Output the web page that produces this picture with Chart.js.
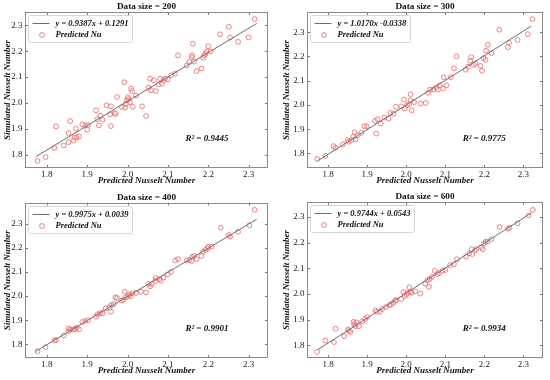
<!DOCTYPE html>
<html>
<head>
<meta charset="utf-8">
<script src="https://cdn.jsdelivr.net/npm/chart.js@4.4.1/dist/chart.umd.min.js"></script>
<style>
  html, body { margin: 0; padding: 0; background: #fff; }
  #wrap { position: relative; width: 550px; height: 380px; }
  #wrap canvas { position: absolute; }
</style>
</head>
<body>
<div id="wrap">
  <canvas id="c200" width="275" height="190" style="left:0;top:0"></canvas>
  <canvas id="c300" width="275" height="190" style="left:275px;top:0"></canvas>
  <canvas id="c400" width="275" height="190" style="left:0;top:190px"></canvas>
  <canvas id="c600" width="275" height="190" style="left:275px;top:190px"></canvas>
</div>
<script>
// panel labels
const sizes = [200, 300, 400, 600];
const eqLabels = ['y = 0.9387x + 0.1291', 'y = 1.0170x -0.0338', 'y = 0.9975x + 0.0039', 'y = 0.9744x + 0.0543'];
const r2Values = ['0.9445', '0.9775', '0.9901', '0.9934'];
const pointLabel = 'Predicted Nu';

// fitted line end points
const fitX = [1.773, 2.32];
const fitY200 = [1.793, 2.307];
const fitY300 = [1.769, 2.325];
const fitY400 = [1.772, 2.318];
const fitY600 = [1.782, 2.315];

// axis bounds
const xMin = [1.746, 1.746, 1.746, 1.746];
const xMax = [2.348, 2.350, 2.348, 2.350];
const yMin = [1.749, 1.740, 1.744, 1.750];
const yMax = [2.351, 2.383, 2.387, 2.358];

// scatter points
const x200 = [1.777,1.797,1.819,1.823,1.842,1.854,1.854,1.858,1.866,1.869,1.872,1.874,1.880,1.888,1.895,1.900,1.902,1.922,1.925,1.929,1.933,1.938,1.948,1.957,1.959,1.959,1.968,1.974,1.971,1.986,1.992,1.994,1.996,1.998,2.001,2.002,2.006,2.009,2.011,2.013,2.021,2.036,2.046,2.052,2.056,2.058,2.065,2.070,2.077,2.081,2.085,2.089,2.093,2.100,2.108,2.118,2.125,2.147,2.153,2.159,2.160,2.162,2.165,2.171,2.183,2.187,2.190,2.193,2.196,2.200,2.206,2.229,2.251,2.254,2.274,2.300,2.315];
const y200 = [1.776,1.791,1.826,1.910,1.836,1.849,1.884,1.930,1.855,1.868,1.900,1.866,1.871,1.917,1.913,1.897,1.915,1.971,1.937,1.913,1.951,1.935,1.991,1.956,1.987,1.911,1.961,2.023,1.958,1.985,2.080,1.982,1.997,2.010,2.023,2.015,2.003,2.055,2.046,1.985,2.029,1.987,1.950,2.059,2.094,2.049,2.088,2.046,2.072,2.094,2.074,2.088,2.094,2.091,2.107,2.113,2.184,2.145,2.158,2.177,2.184,2.229,2.160,2.123,2.133,2.175,2.184,2.190,2.199,2.219,2.199,2.265,2.294,2.253,2.236,2.253,2.324];

const x300 = [1.772,1.793,1.814,1.819,1.838,1.850,1.853,1.859,1.865,1.868,1.870,1.876,1.885,1.893,1.899,1.920,1.923,1.927,1.935,1.944,1.955,1.959,1.967,1.974,1.987,1.994,1.996,2.002,2.007,2.011,2.011,2.014,2.020,2.037,2.050,2.056,2.061,2.069,2.077,2.081,2.086,2.094,2.096,2.103,2.114,2.122,2.129,2.152,2.158,2.164,2.166,2.173,2.177,2.190,2.194,2.198,2.203,2.204,2.209,2.218,2.238,2.260,2.263,2.285,2.311,2.323];
const y300 = [1.777,1.790,1.830,1.823,1.837,1.855,1.848,1.855,1.869,1.887,1.858,1.875,1.885,1.912,1.912,1.934,1.882,1.941,1.923,1.948,1.944,1.967,1.964,1.992,1.994,2.022,1.985,1.999,2.003,2.019,2.044,1.978,2.012,2.006,2.008,2.050,2.063,2.063,2.072,2.063,2.081,2.068,2.114,2.081,2.114,2.151,2.201,2.145,2.158,2.182,2.197,2.165,2.172,2.161,2.141,2.193,2.186,2.224,2.248,2.214,2.310,2.238,2.257,2.268,2.292,2.354];

const x400 = [1.777,1.797,1.819,1.823,1.842,1.854,1.855,1.858,1.866,1.870,1.874,1.880,1.888,1.895,1.902,1.922,1.926,1.932,1.938,1.946,1.955,1.959,1.960,1.966,1.970,1.974,1.986,1.990,1.993,1.996,2.001,2.005,2.008,2.012,2.021,2.033,2.046,2.052,2.056,2.060,2.069,2.070,2.079,2.083,2.089,2.099,2.108,2.118,2.125,2.147,2.153,2.159,2.160,2.165,2.171,2.183,2.187,2.193,2.198,2.200,2.208,2.231,2.251,2.254,2.274,2.302,2.315];
const y400 = [1.772,1.789,1.817,1.818,1.837,1.866,1.855,1.862,1.862,1.865,1.869,1.862,1.893,1.897,1.900,1.915,1.925,1.930,1.930,1.949,1.953,1.936,1.963,1.967,1.995,1.992,1.981,1.985,2.018,1.995,2.001,2.007,1.999,2.011,2.013,2.018,2.015,2.050,2.040,2.050,2.063,2.075,2.070,2.063,2.077,2.090,2.100,2.148,2.153,2.148,2.150,2.145,2.162,2.166,2.153,2.166,2.183,2.191,2.197,2.205,2.205,2.283,2.253,2.246,2.266,2.293,2.357];

const x600 = [1.772,1.793,1.815,1.819,1.841,1.851,1.853,1.857,1.865,1.867,1.870,1.872,1.879,1.887,1.895,1.900,1.921,1.925,1.933,1.938,1.948,1.957,1.961,1.967,1.972,1.974,1.987,1.993,1.996,2.000,2.004,2.008,2.010,2.014,2.023,2.036,2.049,2.054,2.058,2.060,2.066,2.073,2.080,2.084,2.093,2.100,2.112,2.122,2.130,2.153,2.161,2.167,2.169,2.176,2.179,2.192,2.196,2.199,2.203,2.208,2.218,2.239,2.260,2.264,2.285,2.313,2.324];
const y600 = [1.774,1.818,1.812,1.864,1.835,1.861,1.855,1.852,1.891,1.881,1.874,1.889,1.874,1.893,1.903,1.910,1.935,1.930,1.931,1.941,1.949,1.956,1.959,1.965,1.974,1.975,1.980,2.007,1.991,1.997,2.004,2.026,2.007,2.004,2.010,2.001,2.040,2.053,2.027,2.058,2.066,2.090,2.077,2.081,2.090,2.093,2.112,2.116,2.135,2.145,2.158,2.174,2.155,2.168,2.174,2.181,2.174,2.197,2.203,2.204,2.213,2.261,2.254,2.258,2.275,2.306,2.327];

const serif = "'Liberation Serif', 'Times New Roman', serif";
const pointColor = '#ef7272';
const lineColor = '#6e6e6e';

// frame + inward ticks on all four sides
const frameTicks = {
  id: 'frameTicks',
  afterDraw(chart) {
    const { ctx, chartArea: a, scales } = chart;
    ctx.save();
    ctx.strokeStyle = '#555';
    ctx.lineWidth = 0.8;
    ctx.beginPath();
    scales.x.ticks.forEach(t => {
      const px = Math.round(scales.x.getPixelForValue(t.value)) + 0.5;
      ctx.moveTo(px, a.bottom); ctx.lineTo(px, a.bottom - 3);
      ctx.moveTo(px, a.top); ctx.lineTo(px, a.top + 3);
    });
    scales.y.ticks.forEach(t => {
      const py = Math.round(scales.y.getPixelForValue(t.value)) + 0.5;
      ctx.moveTo(a.left, py); ctx.lineTo(a.left + 3, py);
      ctx.moveTo(a.right, py); ctx.lineTo(a.right - 3, py);
    });
    ctx.stroke();
    ctx.strokeStyle = '#8a8a8a';
    ctx.lineWidth = 1;
    ctx.strokeRect(Math.round(a.left) + 0.5, Math.round(a.top) + 0.5, Math.round(a.width) - 1, Math.round(a.height) - 1);
    ctx.restore();
  }
};

// legend inside the axes, plus the R² note
const insideNotes = {
  id: 'insideNotes',
  afterDraw(chart, args, opts) {
    const { ctx, chartArea: a } = chart;
    const ds = chart.data.datasets;
    ctx.save();
    ctx.font = `italic bold 8.5px ${serif}`;
    const tw = Math.max(ctx.measureText(ds[0].label).width, ctx.measureText(ds[1].label).width);
    const bx = Math.round(a.left) + 3.5, by = Math.round(a.top) + 3.5;
    const bw = Math.round(27 + tw + 4), bh = 27;
    ctx.fillStyle = 'rgba(255,255,255,0.85)';
    ctx.strokeStyle = '#d6d6d6';
    ctx.lineWidth = 1;
    ctx.beginPath();
    ctx.roundRect(bx, by, bw, bh, 2);
    ctx.fill();
    ctx.stroke();

    ctx.strokeStyle = lineColor;
    ctx.beginPath();
    ctx.moveTo(bx + 4, by + 8); ctx.lineTo(bx + 21, by + 8);
    ctx.stroke();

    // marker sample, drawn with the library's own point helper
    ctx.strokeStyle = pointColor;
    ctx.fillStyle = 'rgba(0,0,0,0)';
    ctx.lineWidth = 0.9;
    Chart.helpers.drawPoint(ctx, { pointStyle: 'circle', radius: 2.4, borderWidth: 0.9 },
      Math.round(bx + 13), Math.round(by + 19));

    ctx.fillStyle = '#111';
    ctx.textBaseline = 'middle';
    ctx.fillText(ds[0].label, bx + 27, by + 8.5);
    ctx.fillText(ds[1].label, bx + 27, by + 19.5);

    ctx.font = `italic bold 9px ${serif}`;
    ctx.fillText('R² = ' + opts.r2, a.left + a.width * 0.66, a.top + a.height * 0.81);
    ctx.restore();
  }
};

function makePanel(i, xs, ys, fitY) {
  const narrowLeft = (i % 2 === 0);
  const axisW = narrowLeft ? 25 : 32;
  const points = xs.map((x, k) => ({ x: x, y: ys[k] }));
  const line = fitX.map((x, k) => ({ x: x, y: fitY[k] }));
  new Chart(document.getElementById('c' + sizes[i]), {
    type: 'scatter',
    data: {
      datasets: [
        {
          type: 'line', label: eqLabels[i], data: line,
          borderColor: lineColor, borderWidth: 1, pointRadius: 0, fill: false
        },
        {
          label: pointLabel, data: points,
          pointStyle: 'circle', pointRadius: 2.4,
          backgroundColor: 'rgba(0,0,0,0)', borderColor: pointColor, borderWidth: 0.9
        }
      ]
    },
    options: {
      responsive: false,
      animation: false,
      devicePixelRatio: 1,
      layout: { padding: { left: 0, right: 7, top: 0, bottom: 0 } },
      plugins: {
        legend: { display: false },
        tooltip: { enabled: false },
        title: {
          display: true,
          fullSize: false,
          text: 'Data size = ' + sizes[i],
          color: '#111',
          font: { family: serif, size: 9.2, weight: 'bold' },
          padding: { top: i === 2 ? 2 : 1.5, bottom: -0.5 }
        },
        insideNotes: { r2: r2Values[i] }
      },
      scales: {
        x: {
          type: 'linear', min: xMin[i], max: xMax[i],
          grid: { display: false, drawTicks: false },
          border: { display: false },
          ticks: {
            stepSize: 0.1, includeBounds: false, padding: 1.5,
            color: '#222', font: { family: serif, size: 9 },
            callback: v => v.toFixed(1)
          },
          title: {
            display: true, text: 'Predicted Nusselt Number', color: '#111',
            font: { family: serif, size: 9, style: 'italic', weight: 'bold' },
            padding: { top: 0, bottom: 3.5 }
          },
          afterFit: s => { s.height = 22; }
        },
        y: {
          type: 'linear', min: yMin[i], max: yMax[i],
          grid: { display: false, drawTicks: false },
          border: { display: false },
          ticks: {
            stepSize: 0.1, includeBounds: false, padding: 2.5,
            color: '#222', font: { family: serif, size: 9 },
            callback: v => v.toFixed(1)
          },
          title: {
            display: true, text: 'Simulated Nusselt Number', color: '#111',
            font: { family: serif, size: 9, style: 'italic', weight: 'bold' },
            padding: { top: narrowLeft ? 2.6 : 6.5, bottom: 0 }
          },
          afterFit: s => { s.width = axisW; }
        }
      }
    },
    plugins: [frameTicks, insideNotes]
  });
}

makePanel(0, x200, y200, fitY200);
makePanel(1, x300, y300, fitY300);
makePanel(2, x400, y400, fitY400);
makePanel(3, x600, y600, fitY600);
</script>
</body>
</html>
